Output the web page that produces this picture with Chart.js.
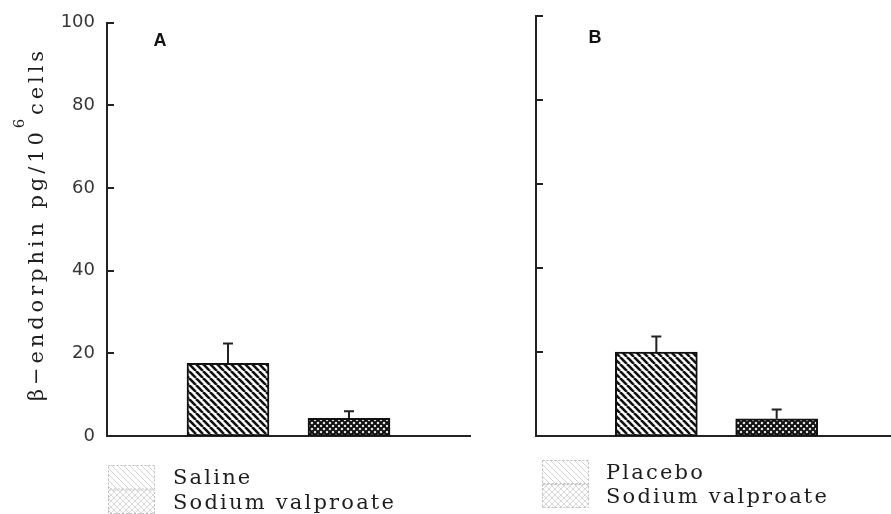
<!DOCTYPE html>
<html>
<head>
<meta charset="utf-8">
<script src="https://cdn.jsdelivr.net/npm/chart.js@4.4.0/dist/chart.umd.min.js"></script>
<style>
  html, body { margin: 0; padding: 0; background: #fff; }
  #wrap { position: relative; width: 891px; height: 514px; overflow: hidden; }
  .panel { position: absolute; top: 0; }
  #panelA { left: 0; }
  #panelB { left: 480px; }
</style>
</head>
<body>
<div id="wrap">
  <div class="panel" id="panelA"><canvas id="chartA" width="480" height="514"></canvas></div>
  <div class="panel" id="panelB"><canvas id="chartB" width="411" height="514"></canvas></div>
</div>
<script>
// Datos (beta-endorfina, pg/10^6 células)
var letrasPanel = ['A', 'B'];
var gruposA = ['Saline', 'Sodium valproate'];
var gruposB = ['Placebo', 'Sodium valproate'];
var mediasA = [17.6, 4.3];
var errorA = [4.8, 1.7];
var mediasB = [20.0, 4.1];
var errorB = [3.7, 2.2];
var ticksY = [0, 20, 40, 60, 80, 100];
var tituloY = ['\u03b2\u2212endorphin pg/10', '6', 'cells'];

var COLOR_TEXTO = '#1e1e1e';
var COLOR_EJE = '#222';
var FUENTE_SERIF = '"DejaVu Serif", serif';

// Trama de rayas diagonales
function tramaRayas(color, grosor, paso) {
  var c = document.createElement('canvas');
  c.width = paso; c.height = paso;
  var g = c.getContext('2d');
  g.fillStyle = '#fff';
  g.fillRect(0, 0, paso, paso);
  g.strokeStyle = color;
  g.lineWidth = grosor;
  for (var k = -1; k <= 1; k++) {
    g.beginPath();
    g.moveTo(k * paso, 0);
    g.lineTo(k * paso + paso, paso);
    g.stroke();
  }
  return g.createPattern(c, 'repeat');
}

// Trama cruzada (rombos blancos sobre negro)
function tramaCruzada(color, grosor, paso) {
  var c = document.createElement('canvas');
  c.width = paso; c.height = paso;
  var g = c.getContext('2d');
  g.fillStyle = '#fff';
  g.fillRect(0, 0, paso, paso);
  g.strokeStyle = color;
  g.lineWidth = grosor;
  for (var k = -1; k <= 1; k++) {
    g.beginPath();
    g.moveTo(k * paso, 0);
    g.lineTo(k * paso + paso, paso);
    g.moveTo(k * paso + paso, 0);
    g.lineTo(k * paso, paso);
    g.stroke();
  }
  return g.createPattern(c, 'repeat');
}

var rellenosBarras = [tramaRayas('#111', 2.6, 7), tramaCruzada('#111', 2.2, 6)];
var rellenosLeyenda = [tramaRayas('#d4d4d4', 1, 6), tramaCruzada('#d8d8d8', 1, 6)];

// Barras de error (solo hacia arriba)
var barrasError = {
  id: 'barrasError',
  afterDatasetsDraw: function (chart) {
    var ctx = chart.ctx;
    var ds = chart.data.datasets[0];
    var meta = chart.getDatasetMeta(0);
    var y = chart.scales.y;
    ctx.save();
    ctx.strokeStyle = COLOR_EJE;
    ctx.lineWidth = 2;
    meta.data.forEach(function (barra, i) {
      var arriba = y.getPixelForValue(ds.data[i].y + ds.errores[i]);
      ctx.beginPath();
      ctx.moveTo(barra.x, barra.y);
      ctx.lineTo(barra.x, arriba);
      ctx.moveTo(barra.x - 5, arriba);
      ctx.lineTo(barra.x + 5, arriba);
      ctx.stroke();
    });
    ctx.restore();
  }
};

// Marcas del eje Y hacia dentro, letra del panel, leyenda y título del eje
var decoracion = {
  id: 'decoracion',
  afterDraw: function (chart) {
    var ctx = chart.ctx;
    var op = chart.options.plugins.decoracion;
    var area = chart.chartArea;
    var y = chart.scales.y;
    ctx.save();

    ctx.strokeStyle = COLOR_EJE;
    ctx.lineWidth = 2;
    ticksY.forEach(function (v) {
      if (v === 0) return;
      var py = Math.round(y.getPixelForValue(v));
      ctx.beginPath();
      ctx.moveTo(area.left, py);
      ctx.lineTo(area.left + 7, py);
      ctx.stroke();
    });

    ctx.fillStyle = '#111';
    ctx.font = 'bold 18px "Liberation Sans", Arial, sans-serif';
    ctx.textAlign = 'center';
    ctx.textBaseline = 'middle';
    ctx.fillText(op.letra, area.left + op.letraX, op.letraY);

    var ley = op.leyenda;
    ctx.font = '21px ' + FUENTE_SERIF;
    ctx.letterSpacing = '2.2px';
    ctx.textAlign = 'left';
    ctx.textBaseline = 'alphabetic';
    ley.etiquetas.forEach(function (et, i) {
      var top = ley.y + i * ley.alto;
      ctx.fillStyle = rellenosLeyenda[i];
      ctx.fillRect(ley.x, top, ley.ancho, ley.alto);
      ctx.setLineDash([2, 2]);
      ctx.strokeStyle = '#bbbbbb';
      ctx.lineWidth = 1;
      ctx.strokeRect(ley.x + 0.5, top + 0.5, ley.ancho - 1, ley.alto - 1);
      ctx.setLineDash([]);
      ctx.fillStyle = COLOR_TEXTO;
      ctx.fillText(et, ley.textoX, top + 19);
    });

    if (op.tituloY) {
      ctx.translate(op.tituloY.x, op.tituloY.y);
      ctx.rotate(-Math.PI / 2);
      ctx.letterSpacing = '3.9px';
      var partes = tituloY;
      ctx.font = '21px ' + FUENTE_SERIF;
      var w0 = ctx.measureText(partes[0]).width;
      ctx.font = '15px ' + FUENTE_SERIF;
      var w1 = ctx.measureText(partes[1]).width;
      ctx.font = '21px ' + FUENTE_SERIF;
      var w2 = ctx.measureText(partes[2]).width;
      var x0 = -(w0 + w1 + w2) / 2;
      ctx.fillStyle = COLOR_TEXTO;
      ctx.textAlign = 'left';
      ctx.fillText(partes[0], x0, 0);
      ctx.font = '15px ' + FUENTE_SERIF;
      ctx.fillText(partes[1], x0 + w0, -19);
      ctx.font = '21px ' + FUENTE_SERIF;
      ctx.fillText(partes[2], x0 + w0 + w1, 0);
    }
    ctx.restore();
  }
};

function crearPanel(id, grupos, medias, errores, cfg) {
  var ctx = document.getElementById(id).getContext('2d');
  return new Chart(ctx, {
    type: 'bar',
    data: {
      labels: grupos,
      datasets: [{
        data: grupos.map(function (g, i) { return { x: i + 1, y: medias[i] }; }),
        errores: errores,
        backgroundColor: rellenosBarras,
        borderColor: '#111',
        borderWidth: 2,
        borderSkipped: false,
        barThickness: 82
      }]
    },
    options: {
      responsive: false,
      animation: false,
      layout: { padding: cfg.padding },
      plugins: {
        legend: { display: false },
        tooltip: { enabled: false },
        decoracion: cfg.deco
      },
      scales: {
        x: {
          type: 'linear',
          offset: false,
          min: 0,
          max: cfg.xMax,
          grid: { display: false, drawTicks: false },
          ticks: { display: false },
          border: { display: true, color: COLOR_EJE, width: 2 }
        },
        y: {
          min: 0,
          max: 100,
          afterBuildTicks: function (s) { s.ticks = ticksY.map(function (v) { return { value: v }; }); },
          afterFit: function (s) { s.width = cfg.anchoY; },
          grid: { display: false, drawTicks: false },
          ticks: {
            display: cfg.etiquetasY,
            padding: 12,
            color: '#363636',
            font: { family: '"DejaVu Sans", sans-serif', size: 18 }
          },
          border: { display: true, color: COLOR_EJE, width: 2 }
        }
      }
    },
    plugins: [barrasError, decoracion]
  });
}

crearPanel('chartA', gruposA, mediasA, errorA, {
  padding: { left: 0, top: 21, right: 10, bottom: 78 },
  xMax: 3,
  anchoY: 107,
  etiquetasY: true,
  deco: {
    letra: letrasPanel[0], letraX: 53, letraY: 41,
    leyenda: { etiquetas: gruposA, x: 108, y: 465, alto: 24.5, ancho: 47, textoX: 173 },
    tituloY: { x: 43, y: 224 }
  }
});

crearPanel('chartB', gruposB, mediasB, errorB, {
  padding: { left: 0, top: 16, right: 0, bottom: 78 },
  xMax: 2.95,
  anchoY: 56,
  etiquetasY: false,
  deco: {
    letra: letrasPanel[1], letraX: 59, letraY: 38,
    leyenda: { etiquetas: gruposB, x: 62, y: 460, alto: 24, ancho: 47, textoX: 126 },
    tituloY: null
  }
});
</script>
</body>
</html>
